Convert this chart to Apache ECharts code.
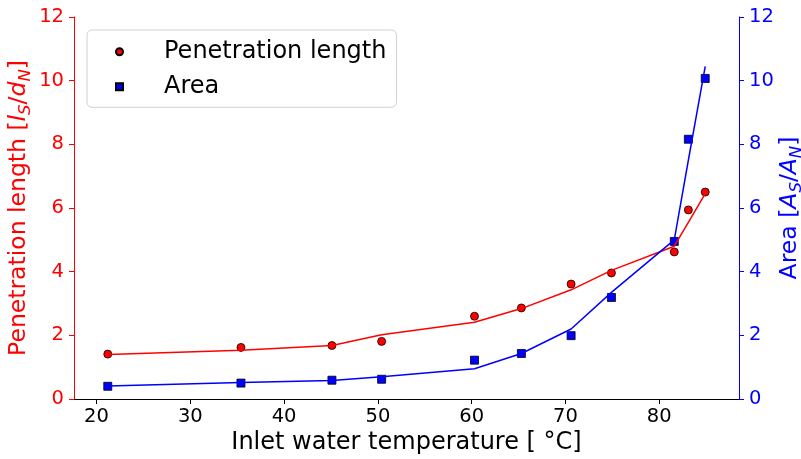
<!DOCTYPE html>
<html>
<head>
<meta charset="utf-8">
<script src="https://cdn.jsdelivr.net/npm/echarts@6/dist/echarts.min.js"></script>
<style>
  html, body { margin: 0; padding: 0; background: #ffffff; }
  #chart { width: 801px; height: 459px; }
</style>
</head>
<body>
<div id="chart"></div>
<script>
// Inlet water temperature in °C
const temperature = [21.2, 35.4, 45.1, 50.4, 60.3, 65.3, 70.6, 74.9, 81.6, 83.1, 84.9];
// Measured penetration length l_S/d_N and its fitted curve
const lengthMeasured = [1.41, 1.62, 1.68, 1.81, 2.60, 2.86, 3.61, 3.96, 4.62, 5.94, 6.50];
const lengthFit = [1.40, 1.53, 1.68, 2.02, 2.41, 2.84, 3.43, 4.04, 4.80, 5.55, 6.45];
// Measured area A_S/A_N and its fitted curve
const areaMeasured = [0.40, 0.50, 0.59, 0.62, 1.22, 1.43, 1.99, 3.19, 4.95, 8.16, 10.07];
const areaFit = [0.41, 0.52, 0.58, 0.70, 0.95, 1.43, 2.20, 3.35, 5.00, 7.50, 10.45];
// Tick labels
const xTicks = [20, 30, 40, 50, 60, 70, 80];
const yTicks = [0, 2, 4, 6, 8, 10, 12];

const FONT = 'DejaVu Sans';
const RED = '#ff0000';
const BLUE = '#0000ff';

const pairs = (xs, ys) => xs.map((x, i) => [x, ys[i]]);

function richName(color) {
  return {
    a: { color: color, fontSize: 23.5, fontFamily: FONT, lineHeight: 30 },
    i: { color: color, fontSize: 23.5, fontFamily: FONT, fontStyle: 'italic', lineHeight: 30 },
    s: { color: color, fontSize: 16.5, fontFamily: FONT, fontStyle: 'italic', lineHeight: 17, verticalAlign: 'bottom' }
  };
}

const chart = echarts.init(document.getElementById('chart'), null, { renderer: 'canvas' });

chart.setOption({
  animation: false,
  backgroundColor: '#ffffff',
  grid: { left: 74, right: 62, top: 17, bottom: 60, containLabel: false, outerBoundsMode: 'none' },
  legend: {
    left: 87,
    top: 30,
    orient: 'vertical',
    selectedMode: false,
    data: [
      { name: 'Penetration length', icon: 'circle' },
      { name: 'Area', icon: 'rect' }
    ],
    itemWidth: 7,
    itemHeight: 7,
    itemGap: 11,
    padding: [9.7, 10, 8.6, 28],
    borderColor: '#d0d0d0',
    borderWidth: 1,
    borderRadius: 5,
    backgroundColor: 'rgba(255,255,255,0.8)',
    textStyle: { fontSize: 24, fontFamily: FONT, color: '#000000', lineHeight: 24, padding: [0, 0, 0, 36] }
  },
  xAxis: [
    {
      type: 'value',
      min: 17.6,
      max: 88.5,
      name: '{a|Inlet water temperature [ °C]}',
      nameLocation: 'middle',
      nameGap: 29,
      nameMoveOverlap: false,
      nameTextStyle: { rich: { a: { color: '#000000', fontSize: 24, fontFamily: FONT, lineHeight: 30 } } },
      axisLine: { show: true, lineStyle: { color: '#000000', width: 1 } },
      axisTick: { show: true, inside: false, length: 5, customValues: xTicks, lineStyle: { color: '#000000' } },
      axisLabel: { customValues: xTicks, color: '#000000', fontSize: 19.5, fontFamily: FONT, margin: 8 },
      splitLine: { show: false }
    },
    {
      type: 'value',
      position: 'top',
      min: 17.6,
      max: 88.5,
      axisLine: { show: true, lineStyle: { color: '#000000', width: 1 } },
      axisTick: { show: false },
      axisLabel: { show: false },
      splitLine: { show: false }
    }
  ],
  yAxis: [
    {
      type: 'value',
      position: 'left',
      min: 0,
      max: 12,
      interval: 2,
      name: '{a|Penetration length [}{i|l}{s|S}{a|/}{i|d}{s|N}{a|]}',
      nameLocation: 'middle',
      nameRotate: 90,
      nameGap: 40,
      nameMoveOverlap: false,
      nameTextStyle: { rich: richName(RED) },
      axisLine: { show: true, lineStyle: { color: RED, width: 1 } },
      axisTick: { show: true, inside: false, length: 5, lineStyle: { color: RED } },
      axisLabel: { color: RED, fontSize: 19.5, fontFamily: FONT, margin: 10,
                   formatter: v => yTicks.includes(v) ? String(v) : '' },
      splitLine: { show: false }
    },
    {
      type: 'value',
      position: 'right',
      min: 0,
      max: 12,
      interval: 2,
      name: '{a|Area [}{i|A}{s|S}{a|/}{i|A}{s|N}{a|]}',
      nameLocation: 'middle',
      nameRotate: 90,
      nameGap: 36,
      nameMoveOverlap: false,
      nameTextStyle: { rich: richName(BLUE) },
      axisLine: { show: true, lineStyle: { color: BLUE, width: 1 } },
      axisTick: { show: true, inside: false, length: 5, lineStyle: { color: BLUE } },
      axisLabel: { color: BLUE, fontSize: 19.5, fontFamily: FONT, margin: 10,
                   formatter: v => yTicks.includes(v) ? String(v) : '' },
      splitLine: { show: false }
    }
  ],
  series: [
    {
      name: 'Penetration length fit',
      type: 'line',
      xAxisIndex: 0,
      yAxisIndex: 0,
      data: pairs(temperature, lengthFit),
      symbol: 'none',
      lineStyle: { color: RED, width: 1.5 },
      itemStyle: { color: RED },
      silent: true
    },
    {
      name: 'Penetration length',
      type: 'scatter',
      xAxisIndex: 0,
      yAxisIndex: 0,
      data: pairs(temperature, lengthMeasured),
      symbol: 'circle',
      symbolSize: 8,
      itemStyle: { color: RED, borderColor: '#000000', borderWidth: 0.8, opacity: 1 },
      silent: true
    },
    {
      name: 'Area fit',
      type: 'line',
      xAxisIndex: 0,
      yAxisIndex: 1,
      data: pairs(temperature, areaFit),
      symbol: 'none',
      lineStyle: { color: BLUE, width: 1.5 },
      itemStyle: { color: BLUE },
      silent: true
    },
    {
      name: 'Area',
      type: 'scatter',
      xAxisIndex: 0,
      yAxisIndex: 1,
      data: pairs(temperature, areaMeasured),
      symbol: 'rect',
      symbolSize: 8,
      itemStyle: { color: BLUE, borderColor: '#000000', borderWidth: 0.8, opacity: 1 },
      silent: true
    }
  ]
});
</script>
</body>
</html>
